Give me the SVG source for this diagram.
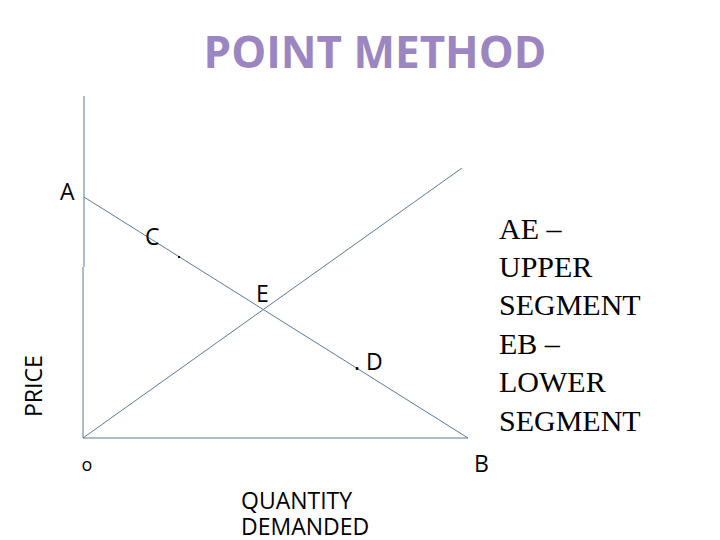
<svg xmlns="http://www.w3.org/2000/svg" width="720" height="540" viewBox="0 0 720 540">
<style>
.l{stroke:#5b7a9a;stroke-width:1;fill:none}
.t{font-family:"Open Sans","DejaVu Sans",sans-serif;font-size:23px;fill:#000}
.s{font-family:"Liberation Serif",serif;font-size:30px;fill:#000}
</style>
<rect width="720" height="540" fill="#fff"/>
<text x="375" y="68" text-anchor="middle" font-family="Open Sans,DejaVu Sans,sans-serif" font-weight="bold" font-size="44" fill="#9b86c2">POINT METHOD</text>
<g id="connectors">
<path class="l" d="M84,96V267M83,267V438H468"/>
<line class="l" x1="84" y1="197" x2="468" y2="438"/>
<line class="l" x1="83" y1="438" x2="462" y2="168"/>
</g>
<g id="A"><text class="t" x="60" y="200">A</text></g>
<g id="C"><text class="t" x="145" y="245">C</text><rect x="178" y="256" width="2" height="2" fill="#000"/></g>
<g id="E"><text class="t" x="256" y="302">E</text></g>
<g id="D"><text class="t" x="354" y="370">.</text><text class="t" x="366" y="370">D</text></g>
<g id="O"><text x="87" y="471" text-anchor="middle" font-family="Open Sans,sans-serif" font-size="18">o</text></g>
<g id="B"><text class="t" x="474" y="472">B</text></g>
<g id="price"><text class="t" transform="translate(42,417) rotate(-90)">PRICE</text></g>
<g id="qty"><text class="t" x="241" y="509">QUANTITY</text><text class="t" x="241" y="535">DEMANDED</text></g>
<g id="legend">
<text class="s" x="499" y="239">AE –</text>
<text class="s" x="499" y="277">UPPER</text>
<text class="s" x="499" y="315">SEGMENT</text>
<text class="s" x="499" y="354">EB –</text>
<text class="s" x="499" y="392">LOWER</text>
<text class="s" x="499" y="431">SEGMENT</text>
</g>
</svg>
